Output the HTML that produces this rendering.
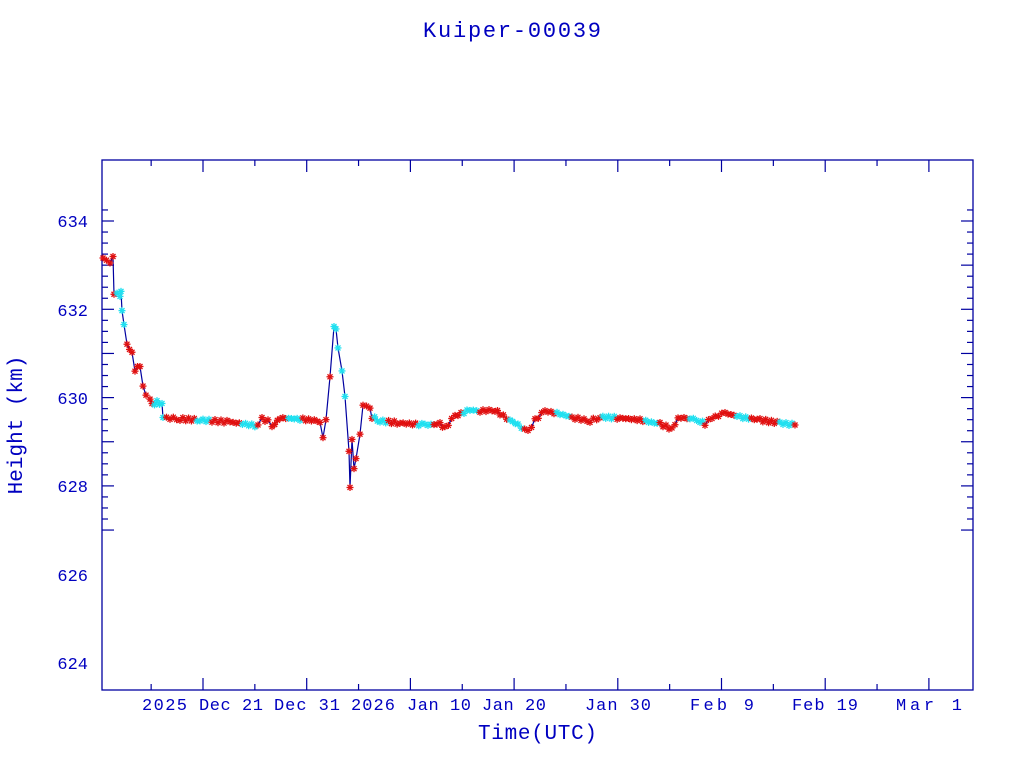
<!DOCTYPE html>
<html><head><meta charset="utf-8"><style>body{margin:0;background:#fff}svg{display:block}</style></head>
<body>
<svg id="s" width="1024" height="768" xmlns="http://www.w3.org/2000/svg" font-family="Liberation Mono, monospace" fill="#0000c0">
<rect width="1024" height="768" fill="#fff"/>
<text x="512" y="37" text-anchor="middle" font-size="22" textLength="178">Kuiper-00039</text>
<rect x="102" y="160" width="871" height="530" fill="none" stroke="#0000a0" stroke-width="1.3"/>
<g id="ticks" stroke="#0000a0" stroke-width="1.2"></g>
<g font-size="17">
<text x="88" y="227" text-anchor="end">634</text>
<text x="88" y="316" text-anchor="end">632</text>
<text x="88" y="404" text-anchor="end">630</text>
<text x="88" y="492" text-anchor="end">628</text>
<text x="88" y="581" text-anchor="end">626</text>
<text x="88" y="669" text-anchor="end">624</text>
<text x="142" y="710" textLength="45">2025</text>
<text x="199" y="710" textLength="64">Dec 21</text>
<text x="274" y="710" textLength="66">Dec 31</text>
<text x="351" y="710" textLength="44">2026</text>
<text x="407" y="710" textLength="64">Jan 10</text>
<text x="482" y="710" textLength="64">Jan 20</text>
<text x="585" y="710" textLength="66">Jan 30</text>
<text x="690" y="710" textLength="64">Feb  9</text>
<text x="792" y="710" textLength="66">Feb 19</text>
<text x="896" y="710" textLength="66">Mar  1</text>
</g>
<text x="478" y="739" font-size="21" textLength="119">Time(UTC)</text>
<text transform="translate(22,425) rotate(-90)" text-anchor="middle" font-size="21">Height (km)</text>
<polyline id="line" fill="none" stroke="#0000a0" stroke-width="1.2"/>
<g id="mk" stroke-width="1.3"></g>
</svg>
<script>
var t=document.getElementById('ticks'),h='';
for(var k=0;k<30;k++){var y=221+(k-1)*44.15/4;if(y<161||y>689)continue;var L=(k%4==1)?12:6;
h+='<line x1="102" y1="'+y+'" x2="'+(102+L)+'" y2="'+y+'"/><line x1="973" y1="'+y+'" x2="'+(973-L)+'" y2="'+y+'"/>';}
for(var k=-2;k<20;k++){var x=203+k*51.85;if(x<103||x>972)continue;var L=(k%2==0)?12:6;
h+='<line x1="'+x+'" y1="690" x2="'+x+'" y2="'+(690-L)+'"/><line x1="'+x+'" y1="160" x2="'+x+'" y2="'+(160+L)+'"/>';}
t.innerHTML=h;
var P=[[103,258],[110,262],[113,255],[114,293],[120,296],[121,292],[122,312],[124,326],[127,345],[132,352],[135,370],[140,365],[143,385],[146,395],[150,400],[152,405],[157,402],[162,404],[163,417],[170,418],[180,419],[200,420],[230,422],[258,426],[262,419],[268,421],[272,427],[280,418],[300,419],[320,421],[323,437],[326,420],[330,378],[334,328],[336,330],[338,348],[342,370],[345,395],[349,450],[350,487],[352,440],[354,470],[356,460],[360,435],[363,405],[370,407],[372,417],[380,421],[400,423],[425,425],[440,424],[445,428],[455,416],[470,410],[480,411],[495,410],[500,414],[510,420],[518,425],[528,432],[535,420],[545,411],[560,414],[575,418],[590,421],[600,417],[620,418],[640,420],[660,424],[672,429],[678,418],[690,418],[700,421],[705,424],[712,418],[725,413],[740,417],[760,420],[780,423],[795,425]];
var pts=[];for(var i=0;i<P.length-1;i++){var a=P[i],b=P[i+1],n=Math.max(1,Math.round((b[0]-a[0])/3));for(var j=0;j<n;j++){var f=j/n;pts.push([a[0]+(b[0]-a[0])*f,a[1]+(b[1]-a[1])*f+(Math.sin(i*7+j*3)*1.5)]);}}
pts.push(P[P.length-1]);
document.getElementById('line').setAttribute('points',pts.map(function(p){return p[0].toFixed(1)+','+p[1].toFixed(1)}).join(' '));
var m='';for(var i=0;i<pts.length;i++){var p=pts[i];var c=(Math.floor(i/5)%3==1)?'#20e0f0':'#e01010';var r=3.5,q=2.5;
m+='<g stroke="'+c+'"><line x1="'+(p[0]-r)+'" y1="'+p[1]+'" x2="'+(p[0]+r)+'" y2="'+p[1]+'"/><line x1="'+p[0]+'" y1="'+(p[1]-r)+'" x2="'+p[0]+'" y2="'+(p[1]+r)+'"/><line x1="'+(p[0]-q)+'" y1="'+(p[1]-q)+'" x2="'+(p[0]+q)+'" y2="'+(p[1]+q)+'"/><line x1="'+(p[0]-q)+'" y1="'+(p[1]+q)+'" x2="'+(p[0]+q)+'" y2="'+(p[1]-q)+'"/></g>';}
document.getElementById('mk').innerHTML=m;
</script>
</body></html>
